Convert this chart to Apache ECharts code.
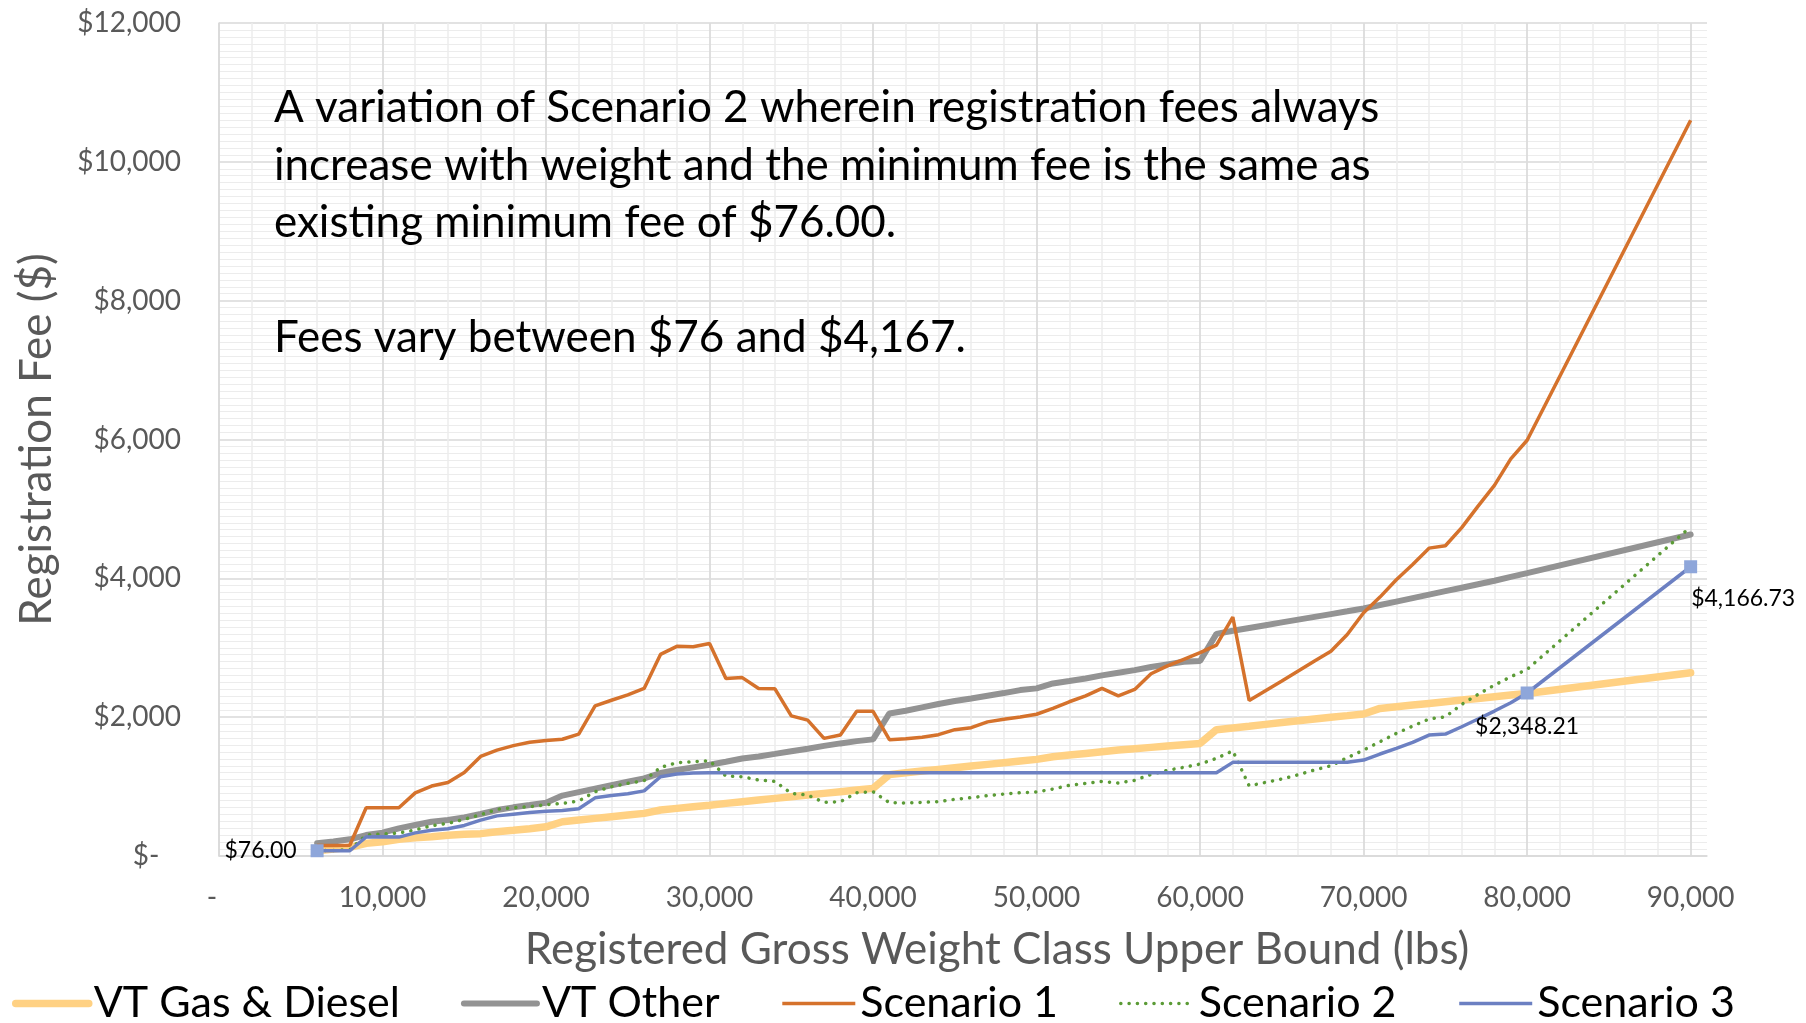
<!DOCTYPE html>
<html><head><meta charset="utf-8">
<script src="https://cdn.jsdelivr.net/npm/echarts@6/dist/echarts.min.js"></script>
<style>html,body{margin:0;padding:0;background:#fff}#c{width:1806px;height:1023px}</style>
</head><body><div id="c"></div>
<script>
// Registered gross weight class upper bound (lbs)
const weights = [6000,7000,8000,9000,10000,11000,12000,13000,14000,15000,
  16000,17000,18000,19000,20000,21000,22000,23000,24000,25000,
  26000,27000,28000,29000,30000,31000,32000,33000,34000,35000,
  36000,37000,38000,39000,40000,41000,42000,43000,44000,45000,
  46000,47000,48000,49000,50000,51000,52000,53000,54000,55000,
  56000,57000,58000,59000,60000,61000,62000,63000,64000,65000,
  66000,67000,68000,69000,70000,71000,72000,73000,74000,75000,
  76000,77000,78000,79000,80000,90000];

const vtGasDiesel = [76,100,125,182,206,240,264,278,298,312,
  322,350,370,394,420,494,518,542,566,590,
  614,662,686,710,730,758,782,806,830,854,
  878,902,926,950,974,1172,1200,1224,1248,1272,
  1296,1320,1344,1368,1392,1430,1454,1478,1502,1526,
  1546,1565,1584,1603,1622,1820,1845,1870,1896,1922,
  1948,1974,2000,2022,2045,2126,2150,2174,2198,2222,
  2246,2270,2294,2318,2342,2640];

const vtOther = [185,210,240,302,336,398,446,494,518,557,
  605,662,701,734,768,870,920,970,1020,1070,
  1118,1195,1238,1277,1315,1358,1404,1433,1471,1510,
  1545,1586,1622,1655,1680,2054,2093,2141,2189,2232,
  2270,2309,2347,2390,2415,2486,2520,2558,2602,2640,
  2678,2722,2760,2798,2810,3200,3245,3285,3325,3365,
  3405,3445,3485,3525,3566,3615,3665,3715,3765,3815,
  3865,3915,3965,4020,4075,4632];

const scenario1 = [150,152,154,696,696,696,910,1008,1058,1202,
  1435,1526,1590,1638,1665,1682,1755,2162,2244,2322,
  2414,2904,3020,3014,3062,2558,2570,2412,2408,2018,
  1958,1694,1742,2085,2085,1676,1690,1712,1748,1820,
  1848,1932,1970,2002,2042,2126,2222,2306,2414,2306,
  2400,2625,2738,2834,2930,3038,3440,2240,2381,2520,
  2664,2808,2950,3190,3505,3730,3980,4200,4435,4470,
  4730,5040,5340,5720,5989,10598];

const scenario2 = [76,80,90,302,317,331,374,437,470,528,
  595,672,696,710,739,758,792,926,998,1046,
  1085,1277,1344,1358,1373,1152,1142,1094,1075,902,
  878,773,782,912,926,768,763,773,782,816,
  840,869,893,912,922,965,1018,1046,1075,1051,
  1090,1176,1234,1277,1325,1406,1515,1010,1060,1110,
  1170,1240,1300,1416,1526,1646,1766,1872,1973,2006,
  2184,2328,2462,2582,2688,4742];

const scenario3 = [76,76,76,274,276,272,333,370,393,440,
  516,578,602,626,643,655,680,838,871,898,
  938,1142,1181,1195,1200,1200,1200,1200,1200,1200,
  1200,1200,1200,1200,1200,1200,1200,1200,1200,1200,
  1200,1200,1200,1200,1200,1200,1200,1200,1200,1200,
  1200,1200,1200,1200,1200,1200,1349,1349,1349,1349,
  1349,1349,1349,1349,1382,1469,1550,1637,1742,1757,
  1862,1973,2088,2208,2348.21,4166.73];

// Scenario 3 points that carry a marker and a value label
const labelledWeights = [6000, 80000, 90000];

const seriesNames = ['VT Gas & Diesel','VT Other','Scenario 1','Scenario 2','Scenario 3'];
const noteText = 'A variation of Scenario 2 wherein registration fees always\nincrease with weight and the minimum fee is the same as\nexisting minimum fee of $76.00.\n\nFees vary between $76 and $4,167.';

const FONT = 'Lato, "Open Sans", sans-serif';
const money2 = v => '$' + v.toLocaleString('en-US', {minimumFractionDigits:2, maximumFractionDigits:2});
const pairs = arr => weights.map((w, i) => [w, arr[i]]);

const labelPos = {
  6000: {position:'left', distance:14},
  80000: {position:'bottom', distance:16},
  90000: {position:[7, 27], align:'left', verticalAlign:'top'}
};
const s3data = weights.map((w, i) => {
  if (labelledWeights.indexOf(w) < 0) return [w, scenario3[i]];
  return {
    value: [w, scenario3[i]],
    symbol: 'rect', symbolSize: 13,
    itemStyle: {color: '#8EA6DA'},
    label: Object.assign({show: true, formatter: p => money2(p.value[1]),
      color: '#000', fontSize: 23, fontFamily: FONT}, labelPos[w])
  };
});

const chart = echarts.init(document.getElementById('c'), null, {renderer: 'canvas'});
chart.setOption({
  backgroundColor: '#ffffff',
  animation: false,
  textStyle: {fontFamily: FONT},
  grid: {left: 219, right: 99, top: 23, bottom: 167, containLabel: false},
  xAxis: [{
    type: 'value', min: 0, max: 91000, interval: 10000, z: 1,
    axisLine: {show: true, onZero: false, lineStyle: {color: '#d9d9d9', width: 1.5}},
    axisTick: {show: false},
    axisLabel: {color: '#595959', fontSize: 28, fontFamily: FONT, margin: 28,
      formatter: v => v === 0 ? '-  ' : (v % 10000 === 0 ? v.toLocaleString('en-US') : '')},
    splitLine: {show: true, showMaxLine: false, lineStyle: {color: '#d9d9d9', width: 1.5}},
    name: 'Registered Gross Weight Class Upper Bound (lbs)',
    nameLocation: 'middle', nameGap: 72,
    nameTextStyle: {color: '#595959', fontSize: 44, fontFamily: FONT, padding: [0, 0, 0, 68]}
  }, {
    type: 'value', min: 0, max: 91000, interval: 2000, z: 0,
    axisLine: {show: false}, axisTick: {show: false}, axisLabel: {show: false},
    splitLine: {show: true, showMaxLine: false, showMinLine: false, lineStyle: {color: '#ececec', width: 1.5}}
  }],
  yAxis: {
    type: 'value', min: 0, max: 12000, interval: 2000,
    axisLine: {show: true, lineStyle: {color: '#d9d9d9', width: 1.5}},
    axisTick: {show: false},
    axisLabel: {color: '#595959', fontSize: 28, fontFamily: FONT, margin: 38,
      formatter: v => v === 0 ? '$-   ' : '$' + v.toLocaleString('en-US')},
    splitLine: {show: true, lineStyle: {color: '#d9d9d9', width: 1.5}},
    minorTick: {show: false, splitNumber: 20},
    minorSplitLine: {show: true, lineStyle: {color: '#ececec', width: 1}},
    name: 'Registration Fee ($)', nameLocation: 'middle', nameGap: 160,
    nameTextStyle: {color: '#595959', fontSize: 44, fontFamily: FONT}
  },
  legend: {
    data: seriesNames, left: 7, top: 977, itemWidth: 73, itemHeight: 20, itemGap: 61,
    lineStyle: {width: 'inherit'},
    itemStyle: {color: 'transparent', borderWidth: 0},
    textStyle: {color: '#000', fontSize: 43, fontFamily: FONT}
  },
  graphic: [{
    type: 'text', left: 274, top: 79, z: 10,
    style: {text: noteText, fill: '#000', fontSize: 44, fontFamily: FONT, lineHeight: 57.6}
  }],
  series: [
    {name: seriesNames[0], type: 'line', data: pairs(vtGasDiesel), symbol: 'none',
      lineStyle: {color: '#FFD183', width: 7.5, cap: 'round'}, itemStyle: {color: '#FFD183'}},
    {name: seriesNames[1], type: 'line', data: pairs(vtOther), symbol: 'none',
      lineStyle: {color: '#939393', width: 6, cap: 'round'}, itemStyle: {color: '#939393'}},
    {name: seriesNames[2], type: 'line', data: pairs(scenario1), symbol: 'none',
      lineStyle: {color: '#D5722C', width: 3.5}, itemStyle: {color: '#D5722C'}},
    {name: seriesNames[3], type: 'line', data: pairs(scenario2), symbol: 'none',
      lineStyle: {color: '#5B9B36', width: 3.5, type: [0.1, 8.2], cap: 'round'}, itemStyle: {color: '#5B9B36'}},
    {name: seriesNames[4], type: 'line', data: s3data, symbol: 'none', showSymbol: true,
      lineStyle: {color: '#6C80C2', width: 3.5}, itemStyle: {color: '#6C80C2'}}
  ]
});
</script></body></html>
